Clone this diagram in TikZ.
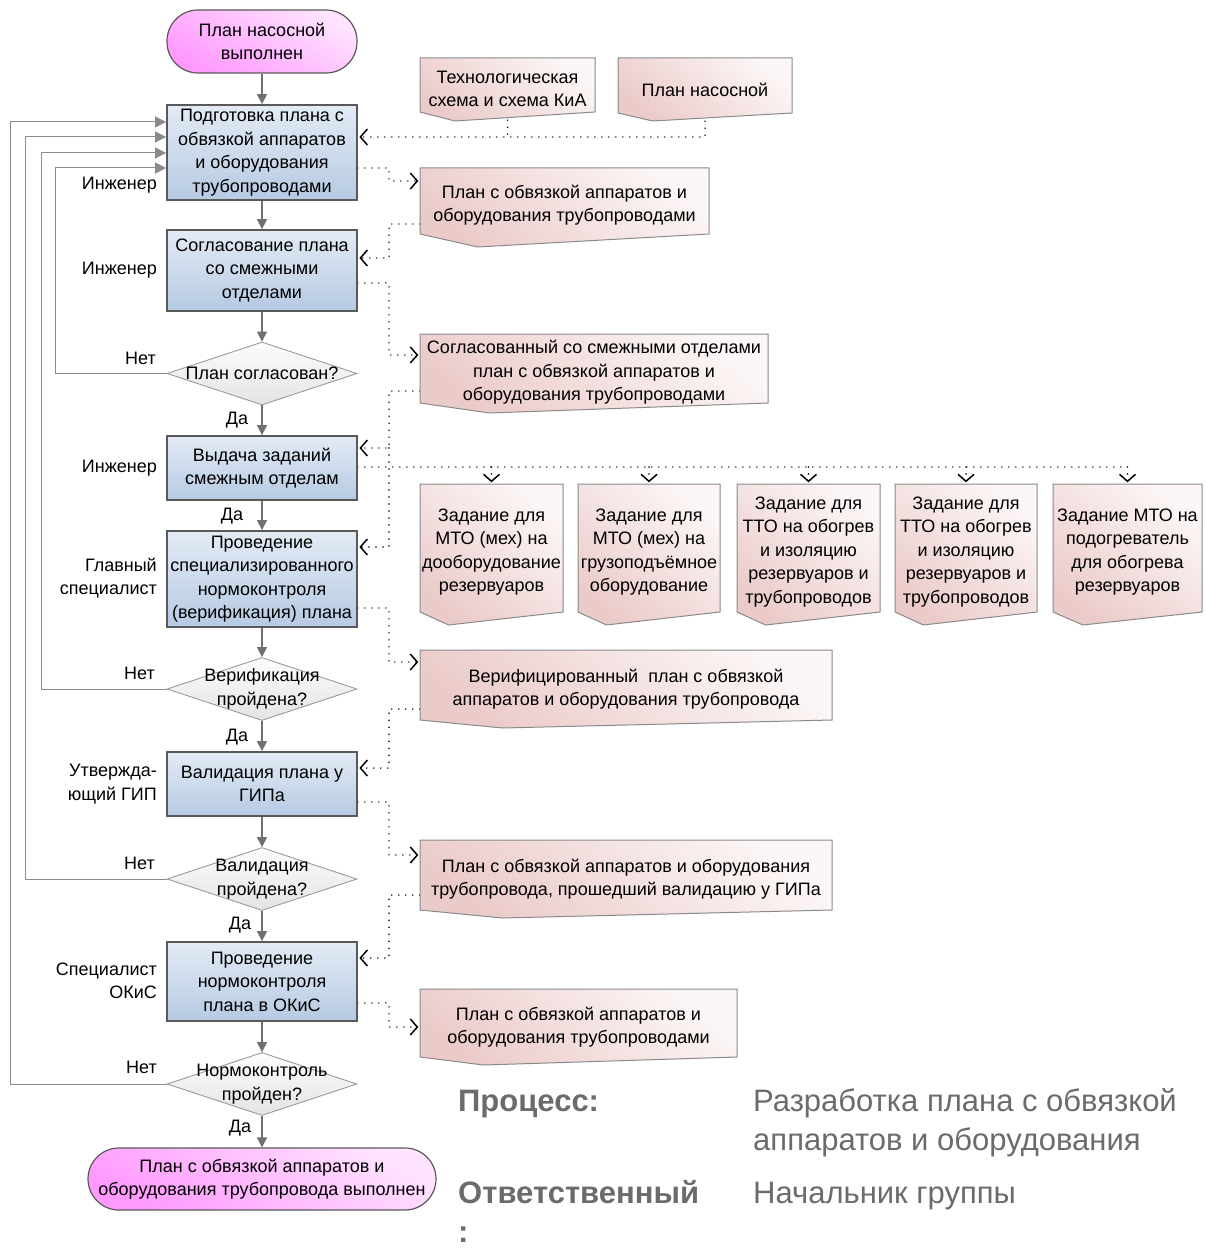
\documentclass[tikz,border=0pt]{standalone}
\usepackage{fontspec}
\setmainfont{Liberation Sans}
\usetikzlibrary{arrows.meta,shapes.geometric,calc,backgrounds}

\definecolor{procTop}{HTML}{E3EBF5}
\definecolor{procBot}{HTML}{B6CAE3}
\definecolor{procLine}{HTML}{595959}
\definecolor{docA}{HTML}{EBCBCA}
\definecolor{docB}{HTML}{FCF6F6}
\definecolor{docLine}{HTML}{8A8A8A}
\definecolor{termA}{HTML}{FF99FF}
\definecolor{termB}{HTML}{FFE4FF}
\definecolor{decA}{HTML}{E4E4E4}
\definecolor{decB}{HTML}{FCFCFC}
\definecolor{decLine}{HTML}{9A9A9A}
\definecolor{connC}{HTML}{707070}
\definecolor{backC}{HTML}{8A8A8A}
\definecolor{titleC}{HTML}{6B6B6B}

\newcommand{\docbox}[7]{%
  \path[docshape] (#2,#4) -- (#3,#4) -- (#3,#5) -- ({#2+0.2*(#3-#2)},{#5+#6}) -- (#2,#5) -- cycle;
  \node[doctext, minimum width={#3-#2}, minimum height={#5-#4+8}] (#1) at ({(#2+#3)/2},{(#4+#5)/2+4}) {#7};
}

\begin{document}
\begin{tikzpicture}[x=1pt,y=-1pt,
  base/.style={font=\fontsize{18}{23.5}\selectfont, align=center, inner sep=0pt},
  proc/.style={base, draw=procLine, line width=1.8pt, top color=procTop, bottom color=procBot, minimum width=190pt},
  term/.style={base, draw=procLine, line width=1.2pt, rounded corners=31pt, top color=termB, bottom color=termA, shading angle=-30, minimum width=190pt, minimum height=63pt},
  dec/.style={shape=diamond, draw=decLine, line width=0.9pt, top color=decB, bottom color=decA, minimum width=190pt, minimum height=63pt, inner sep=0pt},
  docshape/.style={draw=docLine, line width=1pt, top color=docB, bottom color=docA, shading angle=-40},
  doctext/.style={base},
  role/.style={base, anchor=east, align=right},
  lab/.style={base},
  flow/.style={draw=connC, line width=1.5pt, -{Triangle[length=10pt,width=10pt]}},
  back/.style={draw=backC, line width=1pt, -{Triangle[length=11pt,width=11pt]}},
  dotc/.style={black, line width=1.6pt, dash pattern=on 0pt off 7pt, line cap=round},
  barb/.style={-{Straight Barb[length=7pt,width=16pt,line width=1.5pt]}, shorten >=1.5pt},
  ttl/.style={font=\fontsize{31}{39}\selectfont, text=titleC, inner sep=0pt, align=left},
  ttlb/.style={ttl, font=\fontsize{31}{39}\selectfont\bfseries}
]
\useasboundingbox (0,0) rectangle (1206,1249);

% main column
\node[term] (st) at (262,41.5) {План насосной\\выполнен};
\node[proc, minimum height=95pt] (b1) at (262,152.5) {Подготовка плана с\\обвязкой аппаратов\\и оборудования\\трубопроводами};
\node[proc, minimum height=81pt] (b2) at (262,270.5) {Согласование плана\\со смежными\\отделами};
\node[dec, label={[base]center:{План согласован?}}] (q1) at (262,373.5) {};
\node[proc, minimum height=64pt] (b3) at (262,468) {Выдача заданий\\смежным отделам};
\node[proc, minimum height=96pt] (b4) at (262,579) {Проведение\\специализированного\\нормоконтроля\\(верификация) плана};
\node[dec, label={[base]center:{Верификация\\пройдена?}}] (q2) at (262,689) {};
\node[proc, minimum height=64pt] (b5) at (262,784) {Валидация плана у\\ГИПа};
\node[dec, label={[base]center:{Валидация\\пройдена?}}] (q3) at (262,879) {};
\node[proc, minimum height=79pt] (b6) at (262,981.5) {Проведение\\нормоконтроля\\плана в ОКиС};
\node[dec, label={[base]center:{Нормоконтроль\\пройден?}}] (q4) at (262,1084) {};
\node[term, minimum width=348pt, minimum height=62pt] (en) at (262,1179) {План с обвязкой аппаратов и\\оборудования трубопровода выполнен};

% roles
\node[role] (r1) at (157,185) {Инженер};
\node[role] (r2) at (157,270) {Инженер};
\node[role] (r3) at (157,468) {Инженер};
\node[role] (r4) at (157,578) {Главный\\специалист};
\node[role] (r5) at (157,784) {Утвержда-\\ющий ГИП};
\node[role] (r6) at (157,981) {Специалист\\ОКиС};

% yes / no labels
\node[lab, anchor=east] (n1) at (156,358) {Нет};
\node[lab, anchor=east] (n2) at (155,673) {Нет};
\node[lab, anchor=east] (n3) at (155,863) {Нет};
\node[lab, anchor=east] (n4) at (157,1067) {Нет};
\node[lab] (y1) at (237,420) {Да};
\node[lab] (y2) at (232,516) {Да};
\node[lab] (y3) at (237,737) {Да};
\node[lab] (y4) at (240,925) {Да};
\node[lab] (y5) at (240,1128) {Да};

% documents
\docbox{tech}{420}{595}{58}{112}{9}{Технологическая\\схема и схема КиА}
\docbox{pn}{618}{792}{58}{113}{8}{План насосной}
\docbox{d3}{420}{709}{168}{234}{13}{План с обвязкой аппаратов и\\оборудования трубопроводами}
\docbox{d4}{420}{768}{334}{403}{10}{Согласованный со смежными отделами\\план с обвязкой аппаратов и\\оборудования трубопроводами}
\docbox{t1}{420}{563}{484}{612}{13}{Задание для\\МТО (мех) на\\дооборудование\\резервуаров}
\docbox{t2}{578}{720}{484}{612}{13}{Задание для\\МТО (мех) на\\грузоподъёмное\\оборудование}
\docbox{t3}{737}{880}{484}{612}{13}{Задание для\\ТТО на обогрев\\и изоляцию\\резервуаров и\\трубопроводов}
\docbox{t4}{895}{1037}{484}{612}{13}{Задание для\\ТТО на обогрев\\и изоляцию\\резервуаров и\\трубопроводов}
\docbox{t5}{1053}{1202}{484}{612}{13}{Задание МТО на\\подогреватель\\для обогрева\\резервуаров}
\docbox{d5}{420}{832}{650}{720}{8}{Верифицированный\ \ план с обвязкой\\аппаратов и оборудования трубопровода}
\docbox{d6}{420}{832}{840}{910}{8}{План с обвязкой аппаратов и оборудования\\трубопровода, прошедший валидацию у ГИПа}
\docbox{d7}{420}{737}{989}{1057}{8}{План с обвязкой аппаратов и\\оборудования трубопроводами}

% title block
\node[ttlb, anchor=base west] (tp) at (458,1111) {Процесс:};
\node[ttl, anchor=north west] (tpv) at (753,1088) {Разработка плана с обвязкой\\аппаратов и оборудования};
\node[ttlb, anchor=north west] (to) at (458,1180) {Ответственный\\:};
\node[ttl, anchor=base west] (tov) at (753,1203) {Начальник группы};

% main flow
\draw[flow] (st) -- (b1);
\draw[flow] (b1) -- (b2);
\draw[flow] (b2) -- (q1);
\draw[flow] (q1) -- (b3);
\draw[flow] (b3) -- (b4);
\draw[flow] (b4) -- (q2);
\draw[flow] (q2) -- (b5);
\draw[flow] (b5) -- (q3);
\draw[flow] (q3) -- (b6);
\draw[flow] (b6) -- (q4);
\draw[flow] (q4) -- (en);

% feedback loops
\coordinate (f1) at (55,168);
\coordinate (f2) at (41,153);
\coordinate (f3) at (25,137);
\coordinate (f4) at (10,122);
\draw[back] (q1.west) -| (f1) -- (f1 -| b1.west);
\draw[back] (q2.west) -| (f2) -- (f2 -| b1.west);
\draw[back] (q3.west) -| (f3) -- (f3 -| b1.west);
\draw[back] (q4.west) -| (f4) -- (f4 -| b1.west);

% dotted information flows
\begin{scope}[on background layer]
\coordinate (j0) at (705,137);
\draw[dotc] (tech.south) -- (tech.south |- j0);
\draw[dotc, barb] (pn.south) |- (b1.east |- j0);
\coordinate (j1) at (389,181);
\draw[dotc, barb] (b1.east |- 0,168) -| (j1) -- (j1 -| d3.west);
\coordinate (j2) at (389,258);
\draw[dotc, barb] (d3.west |- 0,224) -| (j2) -- (j2 -| b2.east);
\coordinate (j3) at (389,355);
\draw[dotc, barb] (b2.east |- 0,283) -| (j3) -- (j3 -| d4.west);
\coordinate (j4) at (389,448);
\coordinate (j5) at (389,547);
\draw[dotc, barb] (d4.west |- 0,391) -| (j4) -- (j4 -| b3.east);
\draw[dotc, barb] (j4) -- (j5) -- (j5 -| b4.east);
\coordinate (jt) at (389,467);
\draw[dotc] (b3.east |- jt) -- (t5.north |- jt);
\draw[dotc, barb] (t1.north |- jt) -- (t1.north);
\draw[dotc, barb] (t2.north |- jt) -- (t2.north);
\draw[dotc, barb] (t3.north |- jt) -- (t3.north);
\draw[dotc, barb] (t4.north |- jt) -- (t4.north);
\draw[dotc, barb] (t5.north |- jt) -- (t5.north);
\coordinate (j6) at (389,662);
\draw[dotc, barb] (b4.east |- 0,608) -| (j6) -- (j6 -| d5.west);
\coordinate (j7) at (389,768);
\draw[dotc, barb] (d5.west |- 0,709) -| (j7) -- (j7 -| b5.east);
\coordinate (j8) at (389,855);
\draw[dotc, barb] (b5.east |- 0,802) -| (j8) -- (j8 -| d6.west);
\coordinate (j9) at (389,958);
\draw[dotc, barb] (d6.west |- 0,895) -| (j9) -- (j9 -| b6.east);
\coordinate (j10) at (389,1027);
\draw[dotc, barb] (b6.east |- 0,1003) -| (j10) -- (j10 -| d7.west);
\end{scope}
\end{tikzpicture}
\end{document}
